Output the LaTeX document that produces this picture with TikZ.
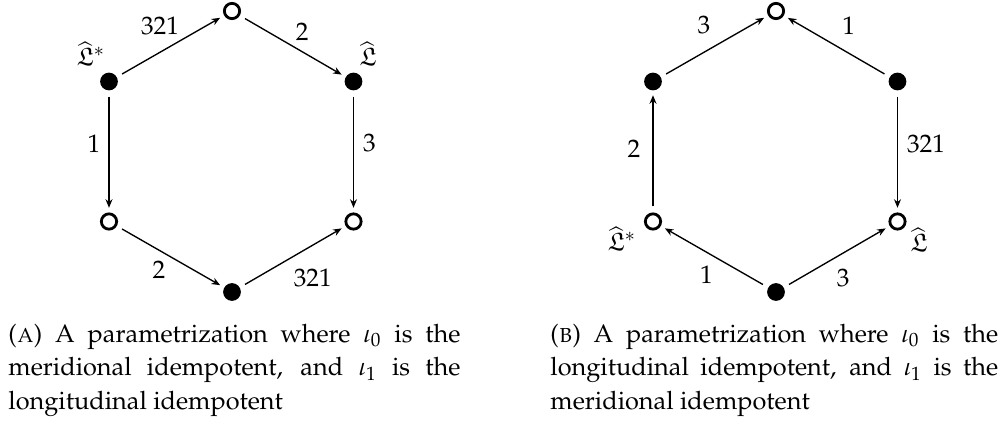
\documentclass[tikz,border=0pt]{standalone}
\usepackage[T1]{fontenc}
\usepackage{mathpazo}
\usepackage{amssymb}
\usetikzlibrary{arrows.meta}
\begin{document}
\begin{tikzpicture}[x=0.4444pt,y=-0.4444pt,
  full/.style={circle,fill=black,inner sep=0pt,minimum size=7.9pt},
  hollow/.style={circle,draw=black,line width=1.25pt,fill=white,inner sep=0pt,minimum size=6.8pt},
  arr/.style={-{Stealth[length=3.8pt,width=3.1pt]},line width=0.6pt,shorten <=6.7pt,shorten >=6.1pt},
  lbl/.style={inner sep=0pt,font=\fontsize{11.25}{13.5}\selectfont},
  captext/.style={inner sep=0pt,align=justify,font=\fontsize{11.25}{14.9}\selectfont,anchor=base west}]
\useasboundingbox (0,0) rectangle (1008,423);
% left hexagon
\node[hollow] (a1) at (232,11) {};
\node[full] (a2) at (109,81.5) {};
\node[full] (a3) at (353.5,81.5) {};
\node[hollow] (a4) at (109,221.5) {};
\node[hollow] (a5) at (353.5,221.5) {};
\node[full] (a6) at (232,292) {};
\draw[arr] (a2.center) -- node[lbl,shift={(-10.5,-20.3)}] {321} (a1.center);
\draw[arr] (a1.center) -- node[lbl,shift={(9.5,-14.5)}] {2} (a3.center);
\draw[arr] (a2.center) -- node[lbl,shift={(-15,-7.5)}] {1} (a4.center);
\draw[arr] (a3.center) -- node[lbl,shift={(16,-9)}] {3} (a5.center);
\draw[arr] (a4.center) -- node[lbl,shift={(-11.5,13.5)}] {2} (a6.center);
\draw[arr] (a6.center) -- node[lbl,shift={(20,21.5)}] {321} (a5.center);
\node[lbl] (la2) at (91,54) {$\widehat{\mathfrak{L}}^*$};
\node[lbl] (la3) at (368,54) {$\widehat{\mathfrak{L}}$};
% right hexagon
\node[hollow] (b1) at (776,11) {};
\node[full] (b2) at (653,81.5) {};
\node[full] (b3) at (897.5,81.5) {};
\node[hollow] (b4) at (653,221.5) {};
\node[hollow] (b5) at (897.5,221.5) {};
\node[full] (b6) at (776,292) {};
\draw[arr] (b2.center) -- node[lbl,shift={(-10.5,-21)}] {3} (b1.center);
\draw[arr] (b3.center) -- node[lbl,shift={(12,-20)}] {1} (b1.center);
\draw[arr] (b4.center) -- node[lbl,shift={(-19,-2.5)}] {2} (b2.center);
\draw[arr] (b3.center) -- node[lbl,shift={(28.5,-8)}] {321} (b5.center);
\draw[arr] (b6.center) -- node[lbl,shift={(-8,18)}] {1} (b4.center);
\draw[arr] (b6.center) -- node[lbl,shift={(6.5,21.5)}] {3} (b5.center);
\node[lbl] (lb4) at (622,239) {$\widehat{\mathfrak{L}}^*$};
\node[lbl] (lb5) at (919,240) {$\widehat{\mathfrak{L}}$};
% captions
\node[captext,text width=200.9pt] (ca) at (8,342) {\baselineskip=14.9pt (\textsc{a}) A parametrization where $\iota_0$ is the\linebreak meridional idempotent, and $\iota_1$ is the\linebreak longitudinal idempotent};
\node[captext,text width=199pt] (cb) at (550,342) {\baselineskip=14.9pt (\textsc{b}) A parametrization where $\iota_0$ is the\linebreak longitudinal idempotent, and $\iota_1$ is the\linebreak meridional idempotent};
\end{tikzpicture}
\end{document}
